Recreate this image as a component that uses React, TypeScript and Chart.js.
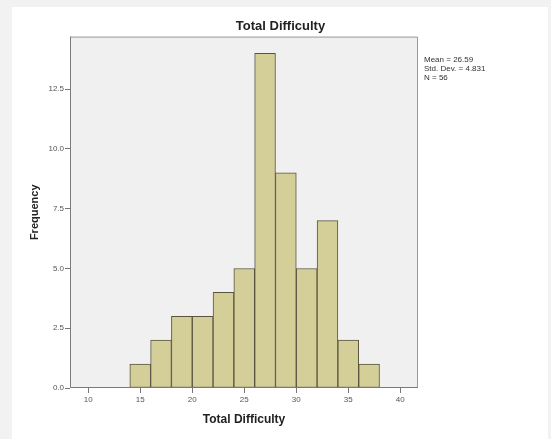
import React, { useEffect, useRef } from "react";
import { Chart, registerables } from "chart.js";

Chart.register(...registerables);

// Histogram bins (center of each 2-unit bin) and frequencies
const binCenters = [15, 17, 19, 21, 23, 25, 27, 29, 31, 33, 35, 37];
const frequencies = [1, 2, 3, 3, 4, 5, 14, 9, 5, 7, 2, 1];
const xTickValues = [10, 15, 20, 25, 30, 35, 40];
const yTickValues = [0, 2.5, 5, 7.5, 10, 12.5];
const statsLines = ["Mean = 26.59", "Std. Dev. = 4.831", "N = 56"];

const FONT = 'Arial, "Liberation Sans", sans-serif';

const backgroundPlugin = {
  id: "bgPanel",
  beforeDraw(chart: any) {
    const { ctx, width, height, chartArea } = chart;
    ctx.save();
    ctx.fillStyle = "#f2f2f2";
    ctx.fillRect(0, 0, width, height);
    ctx.fillStyle = "#ffffff";
    ctx.fillRect(12, 7, width - 15, height - 7);
    ctx.fillStyle = "#f0f0f0";
    ctx.fillRect(chartArea.left, chartArea.top, chartArea.right - chartArea.left, chartArea.bottom - chartArea.top);
    ctx.restore();
  },
  afterDatasetsDraw(chart: any) {
    const { ctx, chartArea } = chart;
    ctx.save();
    ctx.lineWidth = 1;
    ctx.strokeStyle = "#9a9a9a";
    ctx.beginPath();
    ctx.moveTo(chartArea.left, chartArea.top + 0.5);
    ctx.lineTo(chartArea.right - 0.5, chartArea.top + 0.5);
    ctx.lineTo(chartArea.right - 0.5, chartArea.bottom);
    ctx.stroke();
    ctx.strokeStyle = "#7a7a7a";
    ctx.beginPath();
    ctx.moveTo(chartArea.left + 0.5, chartArea.top);
    ctx.lineTo(chartArea.left + 0.5, chartArea.bottom - 0.5);
    ctx.lineTo(chartArea.right, chartArea.bottom - 0.5);
    ctx.stroke();
    ctx.restore();
  },
  afterDraw(chart: any) {
    const { ctx, chartArea } = chart;
    ctx.save();
    ctx.font = `8px ${FONT}`;
    ctx.fillStyle = "#333333";
    ctx.textBaseline = "middle";
    ctx.textAlign = "left";
    statsLines.forEach((t, i) => {
      ctx.fillText(t, chartArea.right + 6, chartArea.top + 23 + i * 9);
    });
    ctx.restore();
  },
};

export default function App() {
  const canvasRef = useRef<HTMLCanvasElement | null>(null);

  useEffect(() => {
    if (!canvasRef.current) return;
    const chart = new Chart(canvasRef.current, {
      type: "bar",
      data: {
        datasets: [
          {
            label: "Frequency",
            data: binCenters.map((x, i) => ({ x, y: frequencies[i] })),
            backgroundColor: "#d4cf99",
            borderColor: "#57533f",
            borderWidth: 1,
            barPercentage: 1,
            categoryPercentage: 1,
            borderSkipped: false,
          },
        ],
      },
      options: {
        responsive: false,
        animation: false,
        devicePixelRatio: 1,
        layout: { padding: { left: 13, right: 3, top: 0, bottom: 0 } },
        plugins: {
          legend: { display: false },
          tooltip: { enabled: false },
          title: {
            display: true,
            text: "Total Difficulty",
            color: "#222222",
            font: { family: FONT, size: 13, weight: "bold" },
            padding: { top: 19, bottom: 2 },
          },
        },
        scales: {
          x: {
            type: "linear",
            min: 8.25,
            max: 41.7,
            offset: false,
            afterBuildTicks: (s: any) => {
              s.ticks = xTickValues.map((v) => ({ value: v }));
            },
            afterFit: (s: any) => {
              s.height = 51;
            },
            ticks: {
              color: "#555555",
              font: { family: FONT, size: 8 },
              padding: 2,
              autoSkip: false,
              maxRotation: 0,
            },
            grid: {
              display: true,
              offset: false,
              drawOnChartArea: false,
              drawTicks: true,
              tickLength: 5,
              color: "#777777",
            },
            border: { display: false },
            title: {
              display: true,
              text: "Total Difficulty",
              color: "#222222",
              font: { family: FONT, size: 12, weight: "bold" },
              padding: { top: 0, bottom: 12 },
            },
          },
          y: {
            type: "linear",
            position: "left",
            min: 0,
            max: 14.7,
            afterBuildTicks: (s: any) => {
              s.ticks = yTickValues.map((v) => ({ value: v }));
            },
            afterFit: (s: any) => {
              s.width = 57;
            },
            ticks: {
              color: "#555555",
              font: { family: FONT, size: 8 },
              padding: 1,
              callback: (v: any) => Number(v).toFixed(1),
            },
            grid: {
              display: true,
              drawOnChartArea: false,
              drawTicks: true,
              tickLength: 5,
              color: "#777777",
            },
            border: { display: false },
            title: {
              display: true,
              text: "Frequency",
              color: "#222222",
              font: { family: FONT, size: 11, weight: "bold" },
              padding: { top: 15, bottom: 0 },
            },
          },
          y2: {
            type: "linear",
            position: "right",
            display: true,
            afterFit: (s: any) => {
              s.width = 130;
            },
            ticks: { display: false },
            grid: { display: false },
            border: { display: false },
          },
        },
      },
      plugins: [backgroundPlugin],
    } as any);
    return () => chart.destroy();
  }, []);

  return (
    <div style={{ position: "absolute", left: 0, top: 0, width: 551, height: 439 }}>
      <canvas ref={canvasRef} width={551} height={439} />
    </div>
  );
}
